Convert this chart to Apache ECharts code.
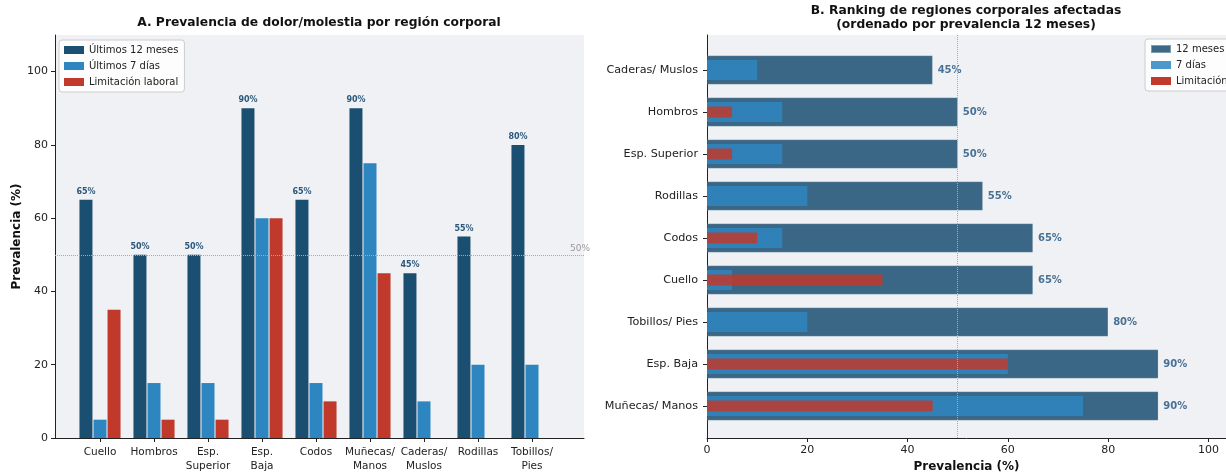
<!DOCTYPE html>
<html>
<head>
<meta charset="utf-8">
<script src="https://cdn.jsdelivr.net/npm/echarts@6/dist/echarts.min.js"></script>
<style>
  html, body { margin: 0; padding: 0; background: #ffffff; }
  #chart { width: 1226px; height: 472px; }
</style>
</head>
<body>
<div id="chart"></div>
<script>
// Body regions and prevalence values (%)
const regions = ['Cuello', 'Hombros', 'Esp.\nSuperior', 'Esp.\nBaja', 'Codos', 'Muñecas/\nManos', 'Caderas/\nMuslos', 'Rodillas', 'Tobillos/\nPies'];
const last12Months = [65, 50, 50, 90, 65, 90, 45, 55, 80];
const last7Days = [5, 15, 15, 60, 15, 75, 10, 20, 20];
const workLimitation = [35, 5, 5, 60, 10, 45, 0, 0, 0];

// Ranking order, top to bottom
const rankingOrder = ['Caderas/\nMuslos', 'Hombros', 'Esp.\nSuperior', 'Rodillas', 'Codos', 'Cuello', 'Tobillos/\nPies', 'Esp.\nBaja', 'Muñecas/\nManos'];

const percentTicks = [0, 20, 40, 60, 80, 100];
const referenceLevel = 50;

const seriesNamesA = ['Últimos 12 meses', 'Últimos 7 días', 'Limitación laboral'];
const seriesNamesB = ['12 meses', '7 días', 'Limitación laboral'];

const DARK = '#1b4f72', LIGHT = '#2e86c1', RED = '#c0392b';
const BG = '#f0f1f4';
const FONT = '"DejaVu Sans", sans-serif';

const pick = (arr) => rankingOrder.map(r => arr[regions.indexOf(r)]);
const rankLabels = rankingOrder.map(r => r.replace('\n', ' '));
const rank12 = pick(last12Months), rank7 = pick(last7Days), rankLim = pick(workLimitation);

const chart = echarts.init(document.getElementById('chart'), null, { renderer: 'canvas' });

const hiddenValue = (extra) => Object.assign({
  type: 'value', show: true,
  axisLine: { show: false }, axisTick: { show: false }, axisLabel: { show: false }, splitLine: { show: false }
}, extra);

const legendBase = {
  orient: 'vertical', itemWidth: 20, itemHeight: 8, itemGap: 6, icon: 'rect',
  textStyle: { fontSize: 10, color: '#222' },
  backgroundColor: 'rgba(255,255,255,0.85)', borderColor: '#cccccc', borderWidth: 1, borderRadius: 3,
  padding: [5, 6, 5, 5]
};

const titleStyle = (text) => ({
  text, font: 'bold 12.3px ' + FONT, lineHeight: 14, fill: '#111',
  textAlign: 'center', textVerticalAlign: 'middle', align: 'center', verticalAlign: 'middle'
});

const option = {
  animation: false,
  textStyle: { fontFamily: FONT },
  graphic: [
    { type: 'text', x: 319, y: 23, style: titleStyle('A. Prevalencia de dolor/molestia por región corporal') },
    { type: 'text', x: 966, y: 18, style: titleStyle('B. Ranking de regiones corporales afectadas\n(ordenado por prevalencia 12 meses)') }
  ],
  legend: [
    Object.assign({ data: seriesNamesA, left: 59, top: 40 }, legendBase),
    Object.assign({ data: seriesNamesB, left: 1145, top: 39 }, legendBase)
  ],
  grid: [
    { left: 55, top: 35, width: 529, bottom: 34, show: true, backgroundColor: BG, borderWidth: 0, outerBoundsMode: 'none', containLabel: false },
    { left: 73, top: 35, width: 486, bottom: 34, outerBoundsMode: 'none', containLabel: false },
    { left: 707, top: 35, right: 0, bottom: 34, show: true, backgroundColor: BG, borderWidth: 0, outerBoundsMode: 'none', containLabel: false },
    { left: 707, top: 49, right: 0, bottom: 45, outerBoundsMode: 'none', containLabel: false }
  ],
  xAxis: [
    hiddenValue({ gridIndex: 0, min: 0, max: 1, axisLine: { show: true, lineStyle: { color: '#222', width: 1 } } }),
    {
      type: 'category', gridIndex: 1, data: regions,
      axisLine: { show: false },
      axisTick: { show: true, alignWithLabel: true, length: 4, lineStyle: { color: '#222' } },
      axisLabel: { interval: 0, fontSize: 10.5, color: '#222', margin: 7, lineHeight: 14 }
    },
    {
      type: 'value', gridIndex: 2, min: 0, max: 103.5,
      axisLine: { show: true, lineStyle: { color: '#222', width: 1 } },
      axisTick: { show: true, length: 4, customValues: percentTicks, lineStyle: { color: '#222' } },
      axisLabel: { fontSize: 11, color: '#222', margin: 7, customValues: percentTicks },
      splitLine: { show: false },
      name: 'Prevalencia (%)', nameLocation: 'middle', nameGap: 22,
      nameTextStyle: { fontSize: 12, fontWeight: 'bold', color: '#111' }
    },
    hiddenValue({ gridIndex: 3, min: 0, max: 103.5 })
  ],
  yAxis: [
    {
      type: 'value', gridIndex: 0, min: 0, max: 110,
      axisLine: { show: true, lineStyle: { color: '#222', width: 1 } },
      axisTick: { show: true, length: 4, customValues: percentTicks, lineStyle: { color: '#222' } },
      axisLabel: { fontSize: 11, color: '#222', margin: 7, customValues: percentTicks },
      splitLine: { show: false },
      name: 'Prevalencia (%)', nameLocation: 'middle', nameGap: 32, nameRotate: 90,
      nameTextStyle: { fontSize: 12, fontWeight: 'bold', color: '#111' }
    },
    hiddenValue({ gridIndex: 1, min: 0, max: 110 }),
    hiddenValue({ gridIndex: 2, min: 0, max: 1, axisLine: { show: true, lineStyle: { color: '#222', width: 1 } } }),
    {
      type: 'category', gridIndex: 3, data: rankLabels, inverse: true,
      axisLine: { show: false },
      axisTick: { show: true, alignWithLabel: true, length: 4, lineStyle: { color: '#222' } },
      axisLabel: { interval: 0, fontSize: 11.2, color: '#222', margin: 9 }
    },
    { type: 'category', gridIndex: 3, data: rankLabels, inverse: true, show: false },
    { type: 'category', gridIndex: 3, data: rankLabels, inverse: true, show: false }
  ],
  series: [
    // Panel A: grouped bars
    {
      name: seriesNamesA[0], type: 'bar', xAxisIndex: 1, yAxisIndex: 1, data: last12Months,
      barWidth: 13, barGap: '8%',
      itemStyle: { color: DARK },
      label: { show: true, position: 'top', distance: 4, formatter: '{c}%', fontSize: 8, fontWeight: 'bold', color: '#2b587c' }
    },
    {
      name: seriesNamesA[1], type: 'bar', xAxisIndex: 1, yAxisIndex: 1, data: last7Days,
      barWidth: 13, barGap: '8%',
      itemStyle: { color: LIGHT }
    },
    {
      name: seriesNamesA[2], type: 'bar', xAxisIndex: 1, yAxisIndex: 1, data: workLimitation,
      barWidth: 13, barGap: '8%',
      itemStyle: { color: RED }
    },
    {
      type: 'line', xAxisIndex: 0, yAxisIndex: 0, data: [], silent: true,
      markLine: {
        silent: true, symbol: ['none', 'none'],
        lineStyle: { type: 'dotted', color: '#aaaaaa', width: 1 },
        label: { show: true, formatter: referenceLevel + '%', position: 'insideEndTop', distance: [-6, 2], fontSize: 9, color: '#999' },
        data: [{ yAxis: referenceLevel }]
      }
    },
    // Panel B: overlaid horizontal bars
    {
      type: 'line', xAxisIndex: 2, yAxisIndex: 2, data: [], silent: true,
      markLine: {
        silent: true, symbol: ['none', 'none'],
        lineStyle: { type: 'dotted', color: '#aaaaaa', width: 1 },
        label: { show: false },
        data: [{ xAxis: referenceLevel }]
      }
    },
    {
      name: seriesNamesB[0], type: 'bar', xAxisIndex: 3, yAxisIndex: 3, data: rank12,
      barWidth: 29,
      itemStyle: { color: DARK, opacity: 0.85, borderColor: 'rgba(255,255,255,0.4)', borderWidth: 0.5 },
      label: { show: true, position: 'right', distance: 5, formatter: '{c}%', fontSize: 10, fontWeight: 'bold', color: '#2a5a84' }
    },
    {
      name: seriesNamesB[1], type: 'bar', xAxisIndex: 3, yAxisIndex: 4, data: rank7,
      barWidth: 20,
      itemStyle: { color: LIGHT, opacity: 0.85 }
    },
    {
      name: seriesNamesB[2], type: 'bar', xAxisIndex: 3, yAxisIndex: 5, data: rankLim,
      barWidth: 11,
      itemStyle: { color: RED, opacity: 0.85 }
    }
  ]
};

chart.setOption(option);
</script>
</body>
</html>
